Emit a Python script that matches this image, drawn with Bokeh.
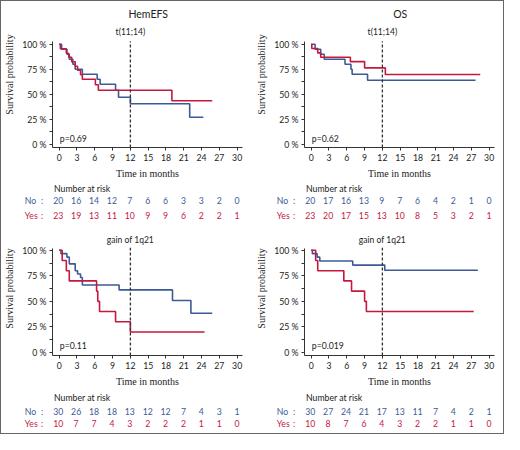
from bokeh.plotting import figure
from bokeh.layouts import column, row
from bokeh.models import Range1d, FixedTicker
from bokeh.core.properties import value
from bokeh.embed import file_html
from bokeh.resources import INLINE

# ---- data ----
risk_times = [0, 3, 6, 9, 12, 15, 18, 21, 24, 27, 30]

# HemEFS, t(11;14)
efs_t_no_time = [0, 0.4, 1.3, 1.7, 2.3, 2.7, 3.9, 6.4, 6.9, 9.5, 10.0, 12.0, 22.0, 24.3]
efs_t_no_surv = [100, 95, 90, 85, 80, 75, 70, 65, 60, 54, 47, 40.5, 27, 27]
efs_t_yes_time = [0, 0.2, 1.2, 1.6, 2.1, 2.7, 3.1, 3.6, 3.9, 6.1, 6.6, 19.0, 25.8]
efs_t_yes_surv = [100, 95.5, 91, 87, 82.5, 78, 74, 69.5, 65, 59.5, 54, 43.5, 43.5]
efs_t_risk_no = [20, 16, 14, 12, 7, 6, 6, 3, 3, 2, 0]
efs_t_risk_yes = [23, 19, 13, 11, 10, 9, 9, 6, 2, 2, 1]

# OS, t(11;14)
os_t_no_time = [0, 0.65, 1.6, 2.2, 5.7, 6.7, 6.9, 9.5, 27.7]
os_t_no_surv = [100, 95, 90, 85, 80, 75, 70, 64, 64]
os_t_yes_time = [0, 0.1, 1.1, 1.6, 6.6, 9.0, 12.5, 28.5]
os_t_yes_surv = [100, 95.7, 91.3, 87, 82.6, 76.3, 69.7, 69.7]
os_t_risk_no = [20, 17, 16, 13, 9, 7, 6, 4, 2, 1, 0]
os_t_risk_yes = [23, 20, 17, 15, 13, 10, 8, 5, 3, 2, 1]

# HemEFS, gain of 1q21
efs_g_no_time = [0, 0.3, 1.3, 1.7, 2.7, 3.1, 3.6, 3.9, 10.1, 19.1, 22.2, 25.8]
efs_g_no_surv = [100, 96.7, 93.3, 86.7, 80, 76.7, 73.3, 66, 61.2, 50.8, 38.3, 38.3]
efs_g_yes_time = [0, 0.5, 1.2, 1.7, 6.3, 6.5, 6.8, 9.5, 12.0, 24.5]
efs_g_yes_surv = [100, 90, 80, 70, 60, 50, 40, 30, 20, 20]
efs_g_risk_no = [30, 26, 18, 18, 13, 12, 12, 7, 4, 3, 1]
efs_g_risk_yes = [10, 7, 7, 4, 3, 2, 2, 2, 1, 1, 0]

# OS, gain of 1q21
os_g_no_time = [0, 0.2, 1.0, 1.45, 7.0, 12.4, 28.1]
os_g_no_surv = [100, 96.7, 93.3, 89.5, 85.5, 80.5, 80.5]
os_g_yes_time = [0, 0.75, 1.1, 5.5, 6.8, 9.0, 9.3, 27.4]
os_g_yes_surv = [100, 90, 80, 70, 60, 50, 40, 40]
os_g_risk_no = [30, 27, 24, 21, 17, 13, 11, 7, 4, 2, 1]
os_g_risk_yes = [10, 8, 7, 6, 4, 3, 2, 2, 1, 1, 0]

landmark = 12

BLUE = "#3C5A97"
RED = "#C6183F"
INK = "#333333"
FONT = "Lato"
NARROW = "Liberation Sans Narrow"

X0, X1 = -1.13, 30.9
FRAME_L = 50


def km_panel(width, height, yr, frame_bottom, title, subtitle, pval,
             no_t, no_s, yes_t, yes_s, title_y, sub_y, axis_top):
    border_r = 9 if width == 250 else 11
    p = figure(width=width, height=height, x_range=Range1d(X0, X1), y_range=Range1d(*yr),
               min_border_left=FRAME_L, min_border_right=border_r, min_border_top=0,
               min_border_bottom=frame_bottom, toolbar_location=None, output_backend="svg")
    p.grid.visible = False
    p.outline_line_color = None
    p.background_fill_color = None
    p.border_fill_color = None

    p.step(no_t, no_s, mode="after", line_color=BLUE, line_width=1.6)
    p.step(yes_t, yes_s, mode="after", line_color=RED, line_width=1.6)
    p.segment(x0=[landmark], y0=[yr[0]], x1=[landmark], y1=[axis_top + 0.5],
              line_color=INK, line_width=1.3, line_dash="3 2")

    if title:
        p.text(x=[15], y=[title_y], text=[title], text_align="center", text_baseline="middle",
               text_font=value(FONT), text_font_size="10.5px", text_color="#222222")
    p.text(x=[landmark], y=[sub_y], text=[subtitle], text_align="center", text_baseline="middle",
           text_font=value(FONT), text_font_size="8.5px", text_color="#222222")
    p.text(x=[0.1], y=[6.3], text=[pval], text_align="left", text_baseline="middle",
           text_font=value(FONT), text_font_size="8.7px", text_color="#222222")

    p.yaxis.ticker = FixedTicker(ticks=[0, 25, 50, 75, 100], minor_ticks=[12.5, 37.5, 62.5, 87.5])
    p.yaxis.major_label_overrides = {0: "0 %", 25: "25 %", 50: "50 %", 75: "75 %", 100: "100 %"}
    p.yaxis.bounds = (yr[0], axis_top)
    p.yaxis.axis_label = "Survival probability"
    p.xaxis.ticker = FixedTicker(ticks=risk_times, minor_ticks=[])
    p.xaxis.axis_label = "Time in months"
    for ax in (p.xaxis, p.yaxis):
        ax.axis_line_color = INK
        ax.major_tick_line_color = INK
        ax.minor_tick_line_color = INK
        ax.major_tick_in = 0
        ax.major_tick_out = 3
        ax.minor_tick_in = 0
        ax.minor_tick_out = 3
        ax.major_label_text_font = FONT
        ax.major_label_text_font_size = "8.7px"
        ax.major_label_text_color = "#222222"
        ax.major_label_standoff = 3
        ax.axis_label_text_font = NARROW
        ax.axis_label_text_font_size = "10px"
        ax.axis_label_text_font_style = "normal"
        ax.axis_label_text_color = "#222222"
        ax.axis_label_standoff = 4
    return p


def risk_table(width, height, rows_y, risk_no, risk_yes):
    border_r = 9 if width == 250 else 11
    frame_w = width - FRAME_L - border_r
    ppu = frame_w / (X1 - X0)
    left = X0 - FRAME_L / ppu
    right = left + width / ppu
    t = figure(width=width, height=height, x_range=Range1d(left, right), y_range=Range1d(height, 0),
               min_border_left=0, min_border_right=0, min_border_top=0, min_border_bottom=0,
               toolbar_location=None, output_backend="svg",
               x_axis_location=None, y_axis_location=None)
    t.frame_align = False
    t.grid.visible = False
    t.outline_line_color = None
    t.background_fill_color = None
    t.border_fill_color = None
    head_y, no_y, yes_y = rows_y
    t.text(x=[-0.7], y=[head_y], text=["Number at risk"], text_align="left", text_baseline="middle",
           text_font=value(FONT), text_font_size="8.7px", text_color="#222222")
    for yy, lab, col, nums in ((no_y, "No", BLUE, risk_no), (yes_y, "Yes", RED, risk_yes)):
        t.text(x=[-5.6], y=[yy], text=[lab], text_align="left", text_baseline="middle",
               text_font=value(FONT), text_font_size="8.7px", text_color=col)
        t.text(x=[-2.7], y=[yy], text=[":"], text_align="center", text_baseline="middle",
               text_font=value(FONT), text_font_size="8.7px", text_color=col)
        t.text(x=risk_times, y=[yy] * len(risk_times), text=[str(n) for n in nums],
               text_align="center", text_baseline="middle",
               text_font=value(FONT), text_font_size="8.7px", text_color=col)
    return t


TOP_YR = (-3.14, 142.6)
BOT_YR = (-3.07, 128.2)

p_tl = km_panel(252, 180, TOP_YR, 32, "HemEFS", "t(11;14)", "p=0.69",
                efs_t_no_time, efs_t_no_surv, efs_t_yes_time, efs_t_yes_surv, 130.2, 112.1, 102.3)
p_tr = km_panel(250, 180, TOP_YR, 32, "OS", "t(11;14)", "p=0.62",
                os_t_no_time, os_t_no_surv, os_t_yes_time, os_t_yes_surv, 130.2, 112.1, 102.3)
p_bl = km_panel(252, 168, BOT_YR, 32, None, "gain of 1q21", "p=0.11",
                efs_g_no_time, efs_g_no_surv, efs_g_yes_time, efs_g_yes_surv, 0, 110.2, 102.0)
p_br = km_panel(250, 168, BOT_YR, 32, None, "gain of 1q21", "p=0.019",
                os_g_no_time, os_g_no_surv, os_g_yes_time, os_g_yes_surv, 0, 110.2, 102.0)

t_tl = risk_table(252, 40, (6.7, 19.3, 33.5), efs_t_risk_no, efs_t_risk_yes)
t_tr = risk_table(250, 40, (6.7, 19.3, 33.5), os_t_risk_no, os_t_risk_yes)
t_bl = risk_table(252, 44, (8.4, 21.5, 34.4), efs_g_risk_no, efs_g_risk_yes)
t_br = risk_table(250, 44, (8.4, 21.5, 34.4), os_g_risk_no, os_g_risk_yes)

layout = row(column(p_tl, t_tl, p_bl, t_bl), column(p_tr, t_tr, p_br, t_br),
             styles={"border": "1px solid #666666", "background-color": "white"})

open("out.html", "w").write(file_html(layout, INLINE))
